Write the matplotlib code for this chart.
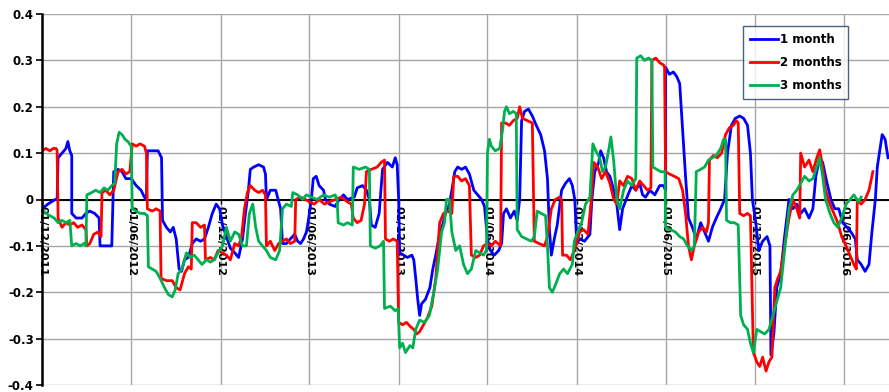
import matplotlib
matplotlib.use("Agg")
import matplotlib.pyplot as plt
import matplotlib.dates as mdates
import pandas as pd

# rolling correlation, three look-back windows
blue_dates = [
    "2011-12-01", "2011-12-13", "2011-12-28", "2012-01-01", "2012-01-03", "2012-01-11", "2012-01-19",
    "2012-01-23", "2012-01-27", "2012-01-31", "2012-01-31", "2012-02-09", "2012-02-21", "2012-02-29",
    "2012-03-08", "2012-03-18", "2012-03-27", "2012-03-29", "2012-04-22", "2012-04-26", "2012-05-05",
    "2012-05-13", "2012-05-21", "2012-06-01", "2012-06-11", "2012-06-21", "2012-06-28", "2012-07-02",
    "2012-07-04", "2012-07-26", "2012-08-02", "2012-08-04", "2012-08-12", "2012-08-20", "2012-08-26",
    "2012-09-01", "2012-09-07", "2012-09-12", "2012-09-18", "2012-09-26", "2012-10-04", "2012-10-12",
    "2012-10-21", "2012-10-29", "2012-11-06", "2012-11-14", "2012-11-22", "2012-11-29", "2012-12-05",
    "2012-12-13", "2012-12-21", "2012-12-30", "2013-01-07", "2013-01-15", "2013-01-21", "2013-01-27",
    "2013-01-31", "2013-02-07", "2013-02-17", "2013-02-27", "2013-03-03", "2013-03-05", "2013-03-13",
    "2013-03-24", "2013-04-03", "2013-04-07", "2013-04-15", "2013-04-23", "2013-05-02", "2013-05-08",
    "2013-05-14", "2013-05-20", "2013-05-26", "2013-05-30", "2013-06-05", "2013-06-09", "2013-06-15",
    "2013-06-21", "2013-06-30", "2013-07-04", "2013-07-12", "2013-07-24", "2013-08-01", "2013-08-10",
    "2013-08-18", "2013-09-01", "2013-09-07", "2013-09-18", "2013-09-26", "2013-10-02", "2013-10-06",
    "2013-10-14", "2013-10-22", "2013-10-29", "2013-11-08", "2013-11-18", "2013-11-24", "2013-11-28",
    "2013-12-01", "2013-12-03", "2013-12-11", "2013-12-19", "2013-12-28", "2014-01-01", "2014-01-05",
    "2014-01-09", "2014-01-13", "2014-01-17", "2014-01-25", "2014-02-03", "2014-02-09", "2014-02-15",
    "2014-02-23", "2014-03-01", "2014-03-07", "2014-03-15", "2014-03-20", "2014-03-26", "2014-04-01",
    "2014-04-09", "2014-04-17", "2014-04-25", "2014-05-04", "2014-05-12", "2014-05-20", "2014-05-26",
    "2014-06-01", "2014-06-07", "2014-06-15", "2014-06-24", "2014-06-30", "2014-07-04", "2014-07-10",
    "2014-07-18", "2014-07-26", "2014-08-01", "2014-08-06", "2014-08-10", "2014-08-16", "2014-08-24",
    "2014-09-01", "2014-09-09", "2014-09-18", "2014-09-26", "2014-10-02", "2014-10-06", "2014-10-10",
    "2014-10-16", "2014-10-22", "2014-10-31", "2014-11-08", "2014-11-16", "2014-11-22", "2014-11-27",
    "2014-12-01", "2014-12-07", "2014-12-17", "2014-12-28", "2015-01-01", "2015-01-07", "2015-01-15",
    "2015-01-19", "2015-01-25", "2015-01-31", "2015-02-07", "2015-02-15", "2015-02-21", "2015-02-27",
    "2015-03-05", "2015-03-16", "2015-03-24", "2015-04-01", "2015-04-09", "2015-04-15", "2015-04-21",
    "2015-04-30", "2015-05-10", "2015-05-20", "2015-05-28", "2015-06-01", "2015-06-01", "2015-06-09",
    "2015-06-17", "2015-06-24", "2015-06-30", "2015-07-06", "2015-07-12", "2015-07-18", "2015-07-26",
    "2015-08-03", "2015-08-12", "2015-08-20", "2015-08-28", "2015-09-05", "2015-09-13", "2015-09-22",
    "2015-09-30", "2015-10-06", "2015-10-14", "2015-10-22", "2015-10-31", "2015-11-08", "2015-11-16",
    "2015-11-22", "2015-11-26", "2015-12-03", "2015-12-09", "2015-12-17", "2015-12-26", "2016-01-01",
    "2016-01-03", "2016-01-09", "2016-01-15", "2016-01-23", "2016-01-31", "2016-02-09", "2016-02-17",
    "2016-02-25", "2016-03-04", "2016-03-12", "2016-03-21", "2016-03-29", "2016-04-04", "2016-04-12",
    "2016-04-18", "2016-04-26", "2016-05-05", "2016-05-13", "2016-05-21", "2016-05-29", "2016-06-07",
    "2016-06-15", "2016-06-24", "2016-06-28", "2016-07-06", "2016-07-14", "2016-07-22", "2016-07-28",
    "2016-08-04", "2016-08-08", "2016-08-18", "2016-08-24", "2016-08-30",
]
blue_values = [
    -0.02, -0.01, 0.0, 0.0, 0.09, 0.10, 0.11,
    0.125, 0.105, 0.095, -0.03, -0.04, -0.04, -0.03,
    -0.025, -0.03, -0.04, -0.10, -0.10, 0.06, 0.065,
    0.06, 0.045, 0.045, 0.03, 0.02, 0.005, 0.0,
    0.105, 0.105, 0.09, -0.045, -0.06, -0.07, -0.06,
    -0.085, -0.15, -0.155, -0.13, -0.125, -0.095, -0.085,
    -0.09, -0.085, -0.06, -0.03, -0.01, -0.02, -0.055,
    -0.08, -0.105, -0.115, -0.125, -0.085, -0.03, 0.02,
    0.065, 0.07, 0.075, 0.07, 0.055, 0.0, 0.02,
    0.02, -0.02, -0.095, -0.095, -0.085, -0.075, -0.09,
    -0.095, -0.085, -0.07, -0.045, 0.0, 0.045, 0.05,
    0.03, 0.02, 0.0, -0.01, -0.015, 0.0, 0.01,
    0.0, 0.005, 0.025, 0.03, 0.02, 0.0, -0.055,
    -0.06, -0.03, 0.065, 0.08, 0.07, 0.09, 0.075,
    0.0, -0.115, -0.12, -0.125, -0.12, -0.13, -0.17,
    -0.215, -0.25, -0.225, -0.215, -0.19, -0.15, -0.12,
    -0.075, -0.055, -0.03, -0.01, 0.02, 0.06, 0.07,
    0.065, 0.07, 0.055, 0.02, 0.01, 0.0, -0.015,
    -0.085, -0.11, -0.12, -0.11, -0.095, -0.03, -0.02,
    -0.04, -0.025, -0.045, 0.0, 0.17, 0.19, 0.195,
    0.18, 0.16, 0.14, 0.105, 0.045, -0.065, -0.12,
    -0.085, -0.055, 0.02, 0.035, 0.045, 0.03, 0.0,
    -0.095, -0.085, -0.09, -0.075, 0.0, 0.06, 0.08,
    0.105, 0.09, 0.06, 0.05, 0.02, -0.01, -0.065,
    -0.02, 0.01, 0.03, 0.02, 0.035, 0.01, 0.005,
    0.02, 0.01, 0.03, 0.03, 0.02, 0.285, 0.27,
    0.275, 0.265, 0.25, 0.15, 0.05, -0.04, -0.06,
    -0.085, -0.05, -0.07, -0.09, -0.06, -0.04, -0.02,
    0.0, 0.10, 0.16, 0.175, 0.18, 0.175, 0.16,
    0.10, 0.0, -0.05, -0.11, -0.09, -0.08, -0.10,
    -0.335, -0.29, -0.19, -0.16, -0.08, 0.0, -0.02,
    -0.01, -0.03, -0.02, -0.04, -0.02, 0.05, 0.09,
    0.08, 0.04, 0.0, -0.02, -0.02, -0.05, -0.06,
    -0.07, -0.085, -0.13, -0.14, -0.155, -0.14, -0.07,
    0.0, 0.07, 0.14, 0.13, 0.09,
]

red_dates = [
    "2011-12-01", "2011-12-09", "2011-12-17", "2011-12-24", "2011-12-30", "2012-01-01", "2012-01-03",
    "2012-01-11", "2012-01-19", "2012-01-27", "2012-02-04", "2012-02-12", "2012-02-21", "2012-02-29",
    "2012-03-02", "2012-03-08", "2012-03-16", "2012-03-25", "2012-03-31", "2012-04-02", "2012-04-10",
    "2012-04-18", "2012-04-26", "2012-05-05", "2012-05-13", "2012-05-21", "2012-05-29", "2012-06-03",
    "2012-06-11", "2012-06-19", "2012-06-28", "2012-07-02", "2012-07-04", "2012-07-14", "2012-07-22",
    "2012-07-30", "2012-08-01", "2012-08-12", "2012-08-24", "2012-09-01", "2012-09-09", "2012-09-18",
    "2012-09-26", "2012-10-02", "2012-10-04", "2012-10-12", "2012-10-21", "2012-10-29", "2012-10-31",
    "2012-11-10", "2012-11-18", "2012-11-26", "2012-12-05", "2012-12-13", "2012-12-21", "2012-12-30",
    "2013-01-07", "2013-01-13", "2013-01-19", "2013-01-25", "2013-01-31", "2013-02-09", "2013-02-17",
    "2013-02-25", "2013-03-03", "2013-03-05", "2013-03-13", "2013-03-22", "2013-03-30", "2013-04-07",
    "2013-04-15", "2013-04-23", "2013-05-02", "2013-05-04", "2013-05-14", "2013-05-24", "2013-06-01",
    "2013-06-11", "2013-06-21", "2013-07-02", "2013-07-12", "2013-07-24", "2013-08-05", "2013-08-18",
    "2013-08-26", "2013-08-30", "2013-09-07", "2013-09-15", "2013-09-22", "2013-09-26", "2013-10-06",
    "2013-10-18", "2013-10-26", "2013-11-02", "2013-11-04", "2013-11-12", "2013-11-20", "2013-11-28",
    "2013-12-01", "2013-12-09", "2013-12-17", "2013-12-26", "2014-01-01", "2014-01-07", "2014-01-13",
    "2014-01-21", "2014-01-29", "2014-02-07", "2014-02-15", "2014-02-23", "2014-03-03", "2014-03-11",
    "2014-03-20", "2014-03-24", "2014-04-01", "2014-04-09", "2014-04-17", "2014-04-25", "2014-04-29",
    "2014-05-08", "2014-05-16", "2014-05-24", "2014-06-01", "2014-06-09", "2014-06-17", "2014-06-28",
    "2014-06-30", "2014-07-08", "2014-07-16", "2014-07-24", "2014-08-01", "2014-08-06", "2014-08-12",
    "2014-08-22", "2014-09-01", "2014-09-05", "2014-09-15", "2014-09-26", "2014-10-02", "2014-10-10",
    "2014-10-18", "2014-10-27", "2014-10-31", "2014-11-02", "2014-11-10", "2014-11-18", "2014-11-26",
    "2014-12-07", "2014-12-15", "2014-12-24", "2014-12-30", "2015-01-05", "2015-01-13", "2015-01-21",
    "2015-01-29", "2015-02-07", "2015-02-15", "2015-02-21", "2015-02-27", "2015-03-07", "2015-03-15",
    "2015-03-24", "2015-04-01", "2015-04-09", "2015-04-17", "2015-04-25", "2015-05-02", "2015-05-04",
    "2015-05-12", "2015-05-20", "2015-05-28", "2015-05-30", "2015-06-01", "2015-06-09", "2015-06-19",
    "2015-06-28", "2015-07-06", "2015-07-12", "2015-07-18", "2015-07-24", "2015-07-30", "2015-08-08",
    "2015-08-16", "2015-08-24", "2015-08-28", "2015-08-30", "2015-09-07", "2015-09-15", "2015-09-24",
    "2015-10-02", "2015-10-10", "2015-10-18", "2015-10-24", "2015-10-28", "2015-10-31", "2015-11-08",
    "2015-11-16", "2015-11-22", "2015-11-28", "2015-12-05", "2015-12-11", "2015-12-17", "2015-12-24",
    "2015-12-30", "2016-01-05", "2016-01-11", "2016-01-17", "2016-01-23", "2016-01-31", "2016-02-09",
    "2016-02-17", "2016-02-25", "2016-03-02", "2016-03-04", "2016-03-12", "2016-03-21", "2016-03-29",
    "2016-04-06", "2016-04-12", "2016-04-18", "2016-04-24", "2016-05-03", "2016-05-11", "2016-05-19",
    "2016-05-27", "2016-06-05", "2016-06-13", "2016-06-21", "2016-06-26", "2016-06-28", "2016-07-06",
    "2016-07-14", "2016-07-22", "2016-07-30",
]
red_values = [
    0.105, 0.11, 0.105, 0.11, 0.11, 0.105, -0.04,
    -0.06, -0.05, -0.055, -0.05, -0.06, -0.055, -0.065,
    -0.10, -0.095, -0.075, -0.07, -0.08, 0.015, 0.02,
    0.01, 0.02, 0.06, 0.065, 0.055, 0.06, 0.12,
    0.115, 0.12, 0.115, 0.10, -0.02, -0.025, -0.02,
    -0.025, -0.17, -0.175, -0.175, -0.19, -0.195, -0.16,
    -0.145, -0.15, -0.05, -0.05, -0.06, -0.055, -0.13,
    -0.125, -0.13, -0.11, -0.115, -0.12, -0.13, -0.095,
    -0.10, -0.08, -0.02, 0.015, 0.03, 0.02, 0.015,
    0.02, 0.01, -0.10, -0.09, -0.11, -0.095, -0.09,
    -0.085, -0.095, -0.09, 0.0, 0.005, 0.0, -0.005,
    -0.01, 0.0, -0.01, -0.005, 0.0, 0.005, -0.005,
    -0.01, -0.04, -0.05, -0.045, -0.01, 0.06, 0.065,
    0.07, 0.08, 0.085, -0.085, -0.09, -0.085, -0.09,
    -0.265, -0.27, -0.265, -0.275, -0.28, -0.29, -0.285,
    -0.27, -0.255, -0.23, -0.17, -0.05, -0.03, -0.025,
    -0.03, 0.05, 0.05, 0.04, 0.045, 0.03, -0.12,
    -0.125, -0.12, -0.10, -0.095, -0.10, -0.09, -0.10,
    0.165, 0.165, 0.16, 0.17, 0.175, 0.20, 0.175,
    0.17, 0.165, -0.09, -0.095, -0.10, -0.08, -0.02,
    0.0, 0.005, 0.0, -0.12, -0.12, -0.13, -0.11,
    -0.07, -0.065, -0.075, -0.01, 0.08, 0.07, 0.045,
    0.06, 0.035, 0.0, -0.01, 0.04, 0.03, 0.05,
    0.045, 0.02, 0.04, 0.03, 0.02, 0.025, 0.30,
    0.305, 0.295, 0.29, 0.285, 0.06, 0.055, 0.05,
    0.045, 0.02, -0.03, -0.10, -0.13, -0.10, -0.07,
    -0.06, -0.07, -0.05, 0.085, 0.095, 0.09, 0.10,
    0.14, 0.155, 0.16, 0.17, 0.165, -0.03, -0.035,
    -0.03, -0.035, -0.33, -0.35, -0.36, -0.34, -0.37,
    -0.35, -0.34, -0.19, -0.17, -0.155, -0.10, -0.04,
    0.0, -0.02, -0.04, 0.10, 0.07, 0.085, 0.06,
    0.09, 0.107, 0.07, 0.02, -0.01, -0.03, -0.05,
    -0.08, -0.10, -0.12, -0.14, -0.15, 0.0, -0.01,
    0.0, 0.02, 0.06,
]

green_dates = [
    "2011-12-01", "2011-12-09", "2011-12-17", "2011-12-26", "2012-01-03", "2012-01-11", "2012-01-19",
    "2012-01-27", "2012-01-31", "2012-02-09", "2012-02-17", "2012-02-25", "2012-02-29", "2012-03-02",
    "2012-03-12", "2012-03-20", "2012-03-29", "2012-04-06", "2012-04-14", "2012-04-22", "2012-04-28",
    "2012-05-02", "2012-05-07", "2012-05-13", "2012-05-19", "2012-05-25", "2012-06-01", "2012-06-03",
    "2012-06-11", "2012-06-19", "2012-06-28", "2012-07-04", "2012-07-06", "2012-07-14", "2012-07-22",
    "2012-07-30", "2012-08-08", "2012-08-16", "2012-08-24", "2012-08-30", "2012-09-05", "2012-09-13",
    "2012-09-22", "2012-09-30", "2012-10-08", "2012-10-16", "2012-10-24", "2012-11-02", "2012-11-10",
    "2012-11-18", "2012-11-26", "2012-12-05", "2012-12-13", "2012-12-21", "2012-12-30", "2013-01-07",
    "2013-01-15", "2013-01-23", "2013-01-29", "2013-02-05", "2013-02-11", "2013-02-17", "2013-02-25",
    "2013-03-05", "2013-03-13", "2013-03-24", "2013-04-01", "2013-04-07", "2013-04-15", "2013-04-25",
    "2013-04-28", "2013-05-08", "2013-05-18", "2013-05-26", "2013-06-05", "2013-06-17", "2013-06-30",
    "2013-07-12", "2013-07-24", "2013-07-28", "2013-07-30", "2013-08-10", "2013-08-18", "2013-08-28",
    "2013-08-30", "2013-09-11", "2013-09-24", "2013-10-02", "2013-10-04", "2013-10-14", "2013-10-24",
    "2013-10-31", "2013-11-02", "2013-11-14", "2013-11-24", "2013-11-30", "2013-12-03", "2013-12-09",
    "2013-12-15", "2013-12-24", "2013-12-30", "2014-01-05", "2014-01-13", "2014-01-23", "2014-02-02",
    "2014-02-11", "2014-02-19", "2014-02-27", "2014-03-05", "2014-03-09", "2014-03-15", "2014-03-20",
    "2014-03-28", "2014-04-05", "2014-04-13", "2014-04-21", "2014-04-29", "2014-05-08", "2014-05-16",
    "2014-05-24", "2014-05-30", "2014-06-01", "2014-06-05", "2014-06-09", "2014-06-17", "2014-06-26",
    "2014-07-02", "2014-07-06", "2014-07-10", "2014-07-16", "2014-07-24", "2014-07-30", "2014-08-01",
    "2014-08-10", "2014-08-20", "2014-08-30", "2014-09-05", "2014-09-11", "2014-09-19", "2014-09-28",
    "2014-10-02", "2014-10-06", "2014-10-12", "2014-10-18", "2014-10-27", "2014-11-04", "2014-11-12",
    "2014-11-22", "2014-11-26", "2014-12-03", "2014-12-11", "2014-12-19", "2014-12-28", "2015-01-03",
    "2015-01-09", "2015-01-17", "2015-01-23", "2015-01-29", "2015-02-05", "2015-02-09", "2015-02-15",
    "2015-02-21", "2015-02-27", "2015-03-07", "2015-03-15", "2015-03-24", "2015-04-01", "2015-04-03",
    "2015-04-11", "2015-04-19", "2015-04-27", "2015-05-04", "2015-05-06", "2015-05-14", "2015-05-22",
    "2015-05-31", "2015-06-01", "2015-06-11", "2015-06-21", "2015-06-30", "2015-07-08", "2015-07-16",
    "2015-07-24", "2015-07-30", "2015-08-03", "2015-08-12", "2015-08-20", "2015-08-28", "2015-09-05",
    "2015-09-13", "2015-09-22", "2015-09-28", "2015-10-02", "2015-10-04", "2015-10-12", "2015-10-20",
    "2015-10-28", "2015-11-02", "2015-11-08", "2015-11-16", "2015-11-22", "2015-11-28", "2015-12-05",
    "2015-12-13", "2015-12-21", "2015-12-30", "2016-01-07", "2016-01-15", "2016-01-23", "2016-01-31",
    "2016-02-09", "2016-02-17", "2016-02-25", "2016-03-04", "2016-03-12", "2016-03-21", "2016-03-29",
    "2016-04-06", "2016-04-12", "2016-04-18", "2016-04-24", "2016-05-03", "2016-05-11", "2016-05-19",
    "2016-05-27", "2016-06-05", "2016-06-13", "2016-06-21", "2016-06-30", "2016-07-06",
]
green_values = [
    -0.02, -0.03, -0.035, -0.04, -0.05, -0.045, -0.05,
    -0.045, -0.10, -0.095, -0.10, -0.095, -0.10, 0.01,
    0.015, 0.02, 0.015, 0.025, 0.02, 0.03, 0.035,
    0.12, 0.145, 0.14, 0.13, 0.125, 0.115, -0.02,
    -0.025, -0.03, -0.03, -0.035, -0.145, -0.15, -0.155,
    -0.17, -0.19, -0.205, -0.21, -0.195, -0.16, -0.15,
    -0.115, -0.125, -0.12, -0.13, -0.14, -0.13, -0.135,
    -0.13, -0.115, -0.10, -0.06, -0.09, -0.07, -0.075,
    -0.10, -0.10, -0.03, -0.01, -0.06, -0.09, -0.10,
    -0.11, -0.125, -0.13, -0.11, -0.02, -0.01, -0.015,
    0.015, 0.01, 0.0, 0.01, 0.005, 0.0, 0.01,
    0.005, 0.01, 0.0, -0.05, -0.055, -0.05, -0.055,
    0.07, 0.065, 0.07, 0.065, -0.10, -0.105, -0.10,
    -0.09, -0.235, -0.23, -0.24, -0.235, -0.32, -0.31,
    -0.33, -0.315, -0.32, -0.28, -0.26, -0.265, -0.25,
    -0.20, -0.15, -0.07, -0.05, 0.0, 0.0, -0.07,
    -0.11, -0.10, -0.14, -0.16, -0.15, -0.11, -0.115,
    -0.12, -0.11, 0.10, 0.13, 0.115, 0.105, 0.11,
    0.15, 0.19, 0.20, 0.185, 0.19, 0.185, -0.065,
    -0.08, -0.085, -0.09, -0.08, -0.025, -0.03, -0.035,
    -0.10, -0.19, -0.20, -0.185, -0.16, -0.15, -0.16,
    -0.14, -0.09, -0.07, -0.05, -0.01, 0.005, 0.12,
    0.105, 0.09, 0.06, 0.07, 0.11, 0.135, 0.08,
    0.0, -0.02, 0.02, 0.04, 0.03, 0.045, 0.305,
    0.31, 0.30, 0.305, 0.30, 0.07, 0.065, 0.06,
    0.06, -0.06, -0.065, -0.07, -0.08, -0.085, -0.10,
    -0.11, -0.10, 0.06, 0.065, 0.07, 0.085, 0.09,
    0.095, 0.11, 0.13, 0.13, -0.045, -0.05, -0.05,
    -0.055, -0.25, -0.27, -0.28, -0.31, -0.33, -0.28,
    -0.285, -0.29, -0.28, -0.25, -0.22, -0.19, -0.11,
    -0.02, 0.01, 0.02, 0.035, 0.05, 0.04, 0.045,
    0.07, 0.09, 0.05, 0.0, -0.03, -0.05, -0.06,
    -0.04, -0.01, 0.0, 0.01, -0.005, 0.005,
]

series = [
    ("1 month", blue_dates, blue_values, "#0000FF"),
    ("2 months", red_dates, red_values, "#FF0000"),
    ("3 months", green_dates, green_values, "#00B050"),
]
tick_dates = pd.date_range("2011-12-01", "2016-06-01", freq="6MS")

plt.rcParams["font.family"] = "DejaVu Sans"
plt.rcParams["font.weight"] = "bold"

fig = plt.figure(figsize=(8.89, 3.92), dpi=100)
ax = fig.add_axes([42 / 889, 7 / 392, 847 / 889, 371 / 392])

for name, d, v, c in series:
    ax.plot(pd.to_datetime(d), v, color=c, lw=2.0, label=name, solid_joinstyle="round")

ax.set_ylim(-0.4, 0.4)
ax.set_yticks([-0.4, -0.3, -0.2, -0.1, 0, 0.1, 0.2, 0.3, 0.4])
ax.set_yticklabels(["-0.4", "-0.3", "-0.2", "-0.1", "0", "0.1", "0.2", "0.3", "0.4"])
ax.set_xlim(pd.Timestamp("2011-12-01"), pd.Timestamp("2016-09-01"))
ax.set_xticks(tick_dates)
ax.xaxis.set_major_formatter(mdates.DateFormatter("%d/%m/%Y"))

ax.grid(True, color="#A6A6A6", lw=1.0)
ax.set_axisbelow(True)

# category axis sits on the zero line
ax.spines["bottom"].set_position(("data", 0))
ax.spines["bottom"].set_linewidth(1.4)
ax.spines["bottom"].set_zorder(1.5)
ax.spines["left"].set_linewidth(1.8)
ax.spines["top"].set_visible(False)
ax.spines["right"].set_visible(False)

ax.tick_params(axis="x", length=3, width=1, pad=2, labelsize=8)
ax.tick_params(axis="y", length=4, width=1.2, pad=2, labelsize=8.5)
for lab in ax.get_xticklabels():
    lab.set_rotation(-90)
    lab.set_ha("center")
    lab.set_va("top")
    lab.set_fontweight("bold")
for lab in ax.get_yticklabels():
    lab.set_fontweight("bold")

leg = ax.legend(loc="upper left", bbox_to_anchor=(0.8276, 0.968), borderaxespad=0, frameon=True,
                fancybox=False, edgecolor="#1F3864", handlelength=2.4, handletextpad=0.1,
                labelspacing=0.85, borderpad=0.6, prop={"weight": "bold", "size": 8.5})
leg.get_frame().set_linewidth(1.0)

fig.savefig("out.png", dpi=100)
